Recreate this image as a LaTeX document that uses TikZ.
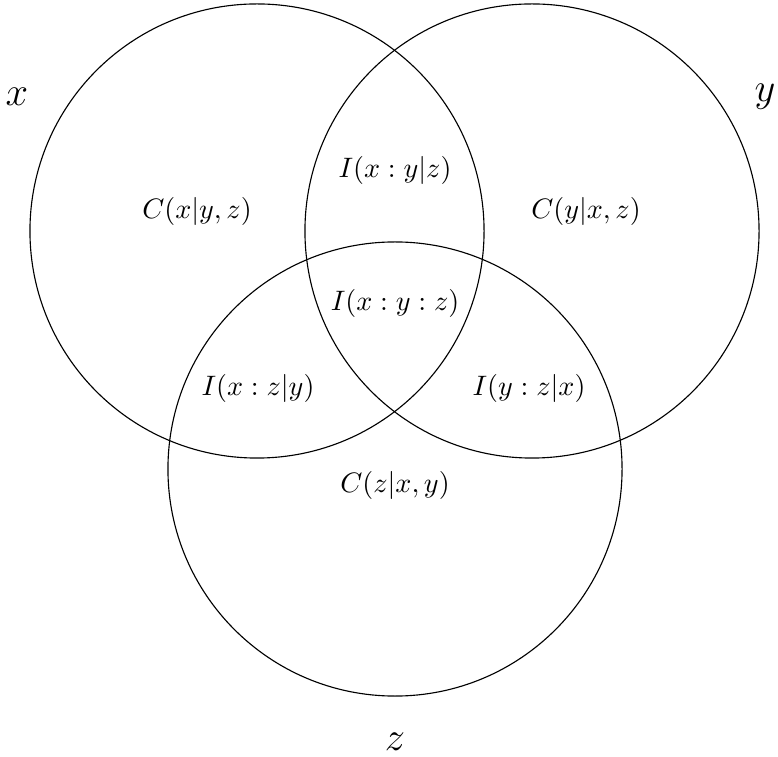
\documentclass[tikz,border=0pt]{standalone}
\usepackage{amsmath,amssymb}
\usepackage{tikz}

\begin{document}
\begin{tikzpicture}[
  x=0.0125cm, y=-0.0125cm,
  setc/.style={draw, circle, minimum size=5.675cm, inner sep=0pt},
  lbl/.style={font=\normalsize},
  big/.style={font=\Large}
]
\useasboundingbox (0,0) rectangle (778,757);
% the three sets
\node[setc] (cx) at (257,231) {};
\node[setc] (cy) at (532,231) {};
\node[setc] (cz) at (395,469) {};
% set names
\node[big] (nx) at (17,97)  {$x$};
\node[big] (ny) at (765,97) {$y$};
\node[big] (nz) at (395,742){$z$};
% regions
\node[lbl] (cxyz) at (197,211) {$C(x|y,z)$};
\node[lbl] (cyxz) at (586,211) {$C(y|x,z)$};
\node[lbl] (czxy) at (395,485) {$C(z|x,y)$};
\node[lbl] (ixyz) at (395,170) {$I(x:y|z)$};
\node[lbl] (ixyz3)at (395,303) {$I(x:y:z)$};
\node[lbl] (ixzy) at (258,388) {$I(x:z|y)$};
\node[lbl] (iyzx) at (529,388) {$I(y:z|x)$};
\end{tikzpicture}
\end{document}
